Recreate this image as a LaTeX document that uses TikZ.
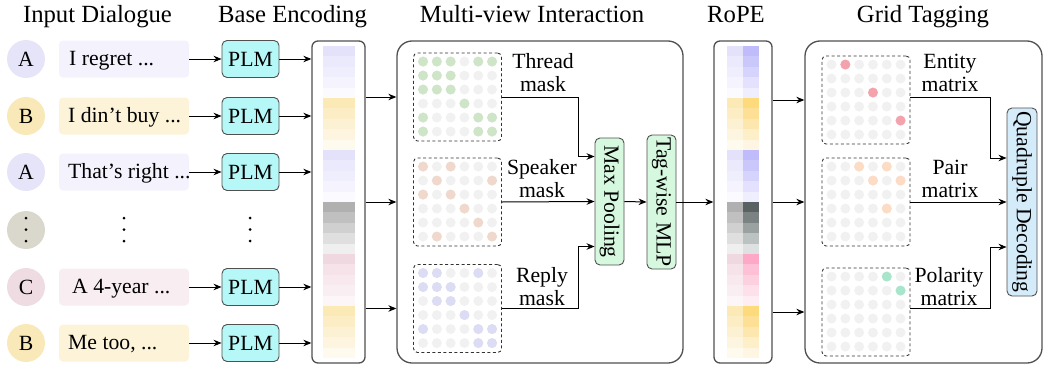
\documentclass[tikz,border=0pt]{standalone}
\usepackage{fontspec}
\setmainfont{Liberation Serif}
\usetikzlibrary{arrows.meta,calc}
\definecolor{spkA}{HTML}{E6E4F9}
\definecolor{spkB}{HTML}{F9E9B8}
\definecolor{spkD}{HTML}{DAD8CC}
\definecolor{spkC}{HTML}{EFDCE3}
\definecolor{uttA}{HTML}{F4F2FD}
\definecolor{uttB}{HTML}{FCF3D8}
\definecolor{uttC}{HTML}{F8EDF1}
\definecolor{plmc}{HTML}{B6F7F7}
\definecolor{mpc}{HTML}{D6F8DF}
\definecolor{qdc}{HTML}{D4ECFA}
\definecolor{edgec}{HTML}{505050}
\definecolor{dotgray}{HTML}{F1F1F1}
\definecolor{dgreen}{HTML}{CFE5C8}
\definecolor{dpeach}{HTML}{F0D9CC}
\definecolor{dlav}{HTML}{DCDCF5}
\definecolor{dred}{HTML}{F4A3AD}
\definecolor{dpair}{HTML}{FCDCC4}
\definecolor{dmint}{HTML}{A8E6CC}
\newcommand\mystrip[3]{%
  \foreach \c [count=\k from 0] in {#3} {\definecolor{tmpc}{HTML}{\c}\fill[tmpc] (#1,{46+10.4*\k}) rectangle (#2,{56.6+10.4*\k});}}
\newcommand\mydots[3]{%
  \foreach \i in {0,...,5}{\foreach \j in {0,...,5}{\fill[dotgray] ($(#1.north west)+({10+13.8*\i},{9+14*\j})$) circle[radius=5pt];}}
  \foreach \i/\j in {#3}{\fill[#2] ($(#1.north west)+({10+13.8*\i},{9+14*\j})$) circle[radius=5pt];}}
\begin{document}
\begin{tikzpicture}[x=1pt,y=-1pt,
  every node/.style={font=\fontsize{21.7}{23}\selectfont, inner sep=0pt},
  title/.style={font=\fontsize{24.7}{26}\selectfont, anchor=base},
  spkr/.style={circle, minimum size=38pt},
  utt/.style={rounded corners=4pt, minimum width=130pt, minimum height=37pt},
  plm/.style={draw=edgec, line width=0.9pt, fill=plmc, rounded corners=5pt, minimum width=57pt, minimum height=37pt},
  colbox/.style={draw=edgec, line width=1.3pt, rounded corners=6pt, minimum height=322pt},
  bigbox/.style={draw=edgec, line width=1.3pt, rounded corners=15pt, minimum height=322pt},
  maskbox/.style={draw=black!80, dashed, dash pattern=on 3pt off 2.5pt, line width=0.9pt, rounded corners=4pt, minimum width=88pt, minimum height=88pt},
  vbox/.style={draw=edgec, line width=0.9pt, rounded corners=5pt, minimum width=29pt},
  lbl/.style={align=center},
  arr/.style={-{Stealth[length=8pt,width=6.5pt]}, line width=1pt},
  ln/.style={line width=1pt}]
\useasboundingbox (0,0) rectangle (1043,372);
% titles
\node[title] (t1) at (97.5,22) {Input Dialogue};
\node[title] (t2) at (292.5,22) {Base Encoding};
\node[title] (t3) at (532,22) {Multi-view Interaction};
\node[title] (t4) at (736,22) {RoPE};
\node[title] (t5) at (923,22) {Grid Tagging};
% speakers
\node[spkr, fill=spkA] (s1) at (26,59) {A};
\node[spkr, fill=spkB] (s2) at (26,116) {B};
\node[spkr, fill=spkA] (s3) at (26,172) {A};
\node[spkr, fill=spkD] (s4) at (26,230) {};
\node[spkr, fill=spkC] (s5) at (26,287) {C};
\node[spkr, fill=spkB] (s6) at (26,343) {B};
% utterances
\node[utt, fill=uttA] (u1) at (124,59) {};
\node[utt, fill=uttB] (u2) at (124,116) {};
\node[utt, fill=uttA] (u3) at (124,172) {};
\node[utt, fill=uttC] (u5) at (124,287) {};
\node[utt, fill=uttB] (u6) at (124,343) {};
\node[anchor=base west] (x1) at (69,65.5) {I regret ...};
\node[anchor=base west] (x2) at (68,122.5) {I din’t buy ...};
\node[anchor=base west] (x3) at (68,178.5) {That’s right ...};
\node[anchor=base west] (x5) at (72,293.5) {A 4-year ...};
\node[anchor=base west] (x6) at (68,349.5) {Me too, ...};
% PLMs
\node[plm] (p1) at (250.5,59) {PLM};
\node[plm] (p2) at (250.5,116) {PLM};
\node[plm] (p3) at (250.5,172) {PLM};
\node[plm] (p5) at (250.5,287) {PLM};
\node[plm] (p6) at (250.5,343) {PLM};
% vertical dots
\foreach \xx in {26,124,250}{\foreach \yy in {218,229.5,241}{\fill (\xx,\yy) circle[radius=1.5pt];}}
% base encoding column
\node[colbox, minimum width=53pt] (base) at (338.5,202) {};
\mystrip{322.7}{355}{E4E2FB,EBE9FC,EFEEFD,F4F3FE,FBFAFF,FBE9B6,FCEDC4,FCF1D2,FDF5E0,FEFAEE,E4E2FB,EBE9FC,EFEEFD,F4F3FE,FBFAFF,B0B0B0,C0C0C0,D0D0D0,DFDFDF,EFEFEF,F0D8E0,F5E3E9,F7E9EE,F9EFF3,FCF6F9,FBE9B6,FCEDC4,FCF1D2,FDF5E0,FEFAEE}
% multi-view box
\node[bigbox, minimum width=286pt] (mv) at (540,202) {};
\node[maskbox] (thr) at (457.5,97) {};
\node[maskbox] (spk) at (457.5,202) {};
\node[maskbox] (rep) at (457.5,308.5) {};
\mydots{thr}{dgreen}{0/0,1/0,2/0,4/0,5/0,0/1,1/1,2/1,0/2,1/2,2/2,3/3,0/4,4/4,5/4,0/5,4/5,5/5}
\mydots{spk}{dpeach}{0/0,2/0,1/1,5/1,0/2,2/2,3/3,4/4,1/5,5/5}
\mydots{rep}{dlav}{0/0,1/0,4/0,0/1,1/1,2/1,1/2,2/2,3/3,0/4,4/4,5/4,4/5,5/5}
\node[lbl] (lt) at (543,73) {Thread\\mask};
\node[lbl] (ls) at (542,178.6) {Speaker\\mask};
\node[lbl] (lr) at (542,286.6) {Reply\\mask};
\node[vbox, fill=mpc, minimum height=127pt] (mp) at (609.5,201.5) {\rotatebox{-90}{Max Pooling}};
\node[vbox, fill=mpc, minimum height=134pt] (tw) at (661.5,202) {\rotatebox{-90}{Tag-wise MLP}};
% RoPE column
\node[colbox, minimum width=58pt] (rope) at (743,202) {};
\mystrip{726.7}{742.9}{E4E2FB,EBE9FC,EFEEFD,F4F3FE,FBFAFF,FBE9B6,FCEDC4,FCF1D2,FDF5E0,FEFAEE,E4E2FB,EBE9FC,EFEEFD,F4F3FE,FBFAFF,B0B0B0,C0C0C0,D0D0D0,DFDFDF,EFEFEF,F0D8E0,F5E3E9,F7E9EE,F9EFF3,FCF6F9,FBE9B6,FCEDC4,FCF1D2,FDF5E0,FEFAEE}
\mystrip{742.7}{759}{C0BCFB,CAC7FB,D6D3FC,E3E1FD,EFEEFE,FDDB7C,FDE096,FDE7AE,FDEFC8,FEF6E2,C0BCFB,CAC7FB,D6D3FC,E3E1FD,EFEEFE,596162,7B8282,9BA1A1,BCC1C1,DDE1E1,FCA8C6,FDC0D6,FDD0E0,FDE0EA,FEEEF4,FDDB7C,FDE096,FDE7AE,FDEFC8,FEF6E2}
% grid tagging box
\node[bigbox, minimum width=237pt] (gt) at (923.5,202) {};
\node[maskbox] (ent) at (866,100) {};
\node[maskbox] (pair) at (866,202) {};
\node[maskbox] (pol) at (866,312) {};
\mydots{ent}{dred}{1/0,3/2,5/4}
\mydots{pair}{dpair}{2/0,4/0,3/1,5/1,4/3}
\mydots{pol}{dmint}{4/0,5/1}
\node[lbl] (le) at (950,72.6) {Entity\\matrix};
\node[lbl] (lp) at (950,178.6) {Pair\\matrix};
\node[lbl] (lo) at (949,286.6) {Polarity\\matrix};
\node[vbox, fill=qdc, minimum width=30pt, minimum height=188pt] (qd) at (1022,202) {\rotatebox{-90}{Quadruple Decoding}};
% connectors: dialogue -> PLM -> base
\foreach \n in {1,2,3,5,6}{
  \draw[arr] (u\n.east) -- (p\n.west);
  \draw[arr] (p\n.east) -- (base.west |- p\n.east);
}
% base -> multi-view
\draw[arr] (base.east |- thr.west) -- (mv.west |- thr.west);
\draw[arr] (base.east |- spk.west) -- (mv.west |- spk.west);
\draw[arr] (base.east |- rep.west) -- (mv.west |- rep.west);
% masks -> max pooling
\draw[arr] (thr.east) -- ++(77,0) |- ([yshift=45pt]mp.west);
\draw[arr] (spk.east) -- (mp.west);
\draw[arr] (rep.east) -- ++(77,0) |- ([yshift=-45pt]mp.west);
\draw[arr] (mp.east) -- (tw.west);
\draw[arr] (tw.east) -- (rope.west |- tw.east);
% RoPE -> grid
\draw[arr] (rope.east |- ent.west) -- (gt.west |- ent.west);
\draw[arr] (rope.east |- pair.west) -- (gt.west |- pair.west);
\draw[arr] (rope.east |- pol.west) -- (gt.west |- pol.west);
% matrices -> decoding
\draw[arr] ([yshift=3pt]ent.east) -- ++(80,0) |- ([yshift=44pt]qd.west);
\draw[arr] (pair.east) -- (qd.west);
\draw[arr] ([yshift=4pt]pol.east) -- ++(80,0) |- ([yshift=-45pt]qd.west);
\end{tikzpicture}
\end{document}
